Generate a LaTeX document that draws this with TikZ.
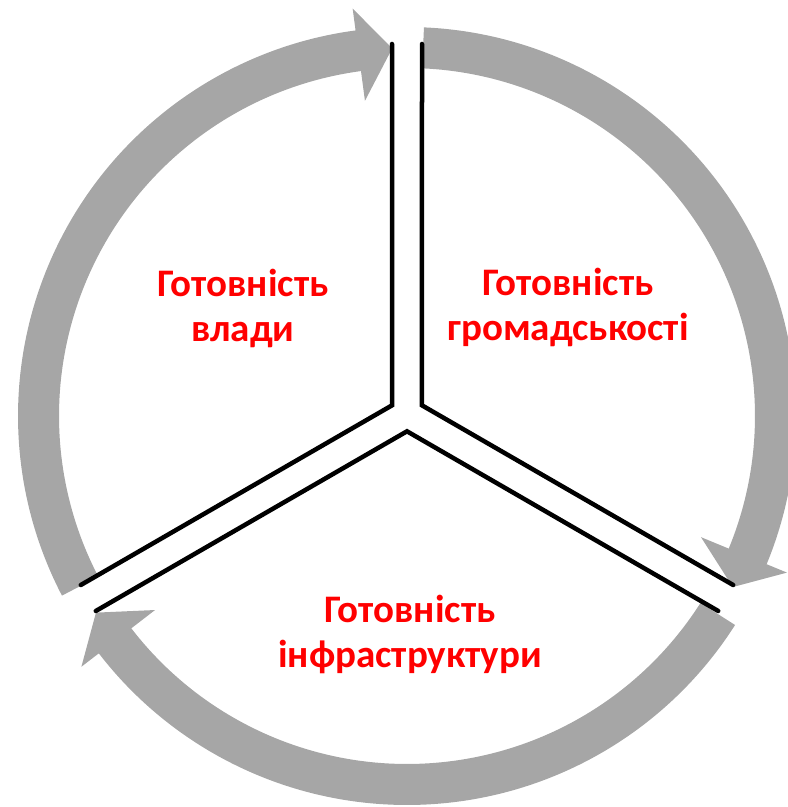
\documentclass[tikz,border=0pt]{standalone}
\usepackage{fontspec}
\setmainfont{Carlito}
\usetikzlibrary{calc}
\definecolor{grigio}{HTML}{A6A6A6}
\definecolor{rosso}{HTML}{FF0000}
\tikzset{
  freccia/.style={fill=grigio, draw=none},
  bordo/.style={draw=black, line width=4.5pt, line cap=round, line join=miter},
  titolo/.style={text=rosso, font=\fontsize{39}{45}\selectfont\bfseries, align=center, inner sep=0pt}
}

\begin{document}
\begin{tikzpicture}[x=1pt, y=1pt]
        \useasboundingbox (0,0) rectangle (788,807);
        \clip (0,0) rectangle (788,807);
        % CENTRO
        \coordinate (c) at (407,391);
        \coordinate (o) at (407,393);

        % FRECCE
        \foreach \t in {87.5,207.5,327.5}{
            \pgfmathsetmacro{\tip}{\t-115.2}
            \pgfmathsetmacro{\base}{\tip+5.3}
            \fill[freccia] ($(c)+(\t:389)$) arc[start angle=\t, end angle=\base, radius=389]
                -- ($(c)+(\base:411)$) -- ($(c)+(\tip:368)$) -- ($(c)+(\base:318)$)
                -- ($(c)+(\base:348)$) arc[start angle=\base, end angle=\t, radius=348] -- cycle;
        }

        % BORDI
        \coordinate (sx1) at ($(o)+(90:370)+(180:15)$);
        \coordinate (sx2) at ($(o)+(150:17.3)$);
        \coordinate (sx3) at ($(o)+(210:368)+(120:15)$);
        \coordinate (dx1) at ($(o)+(90:370)+(0:15)$);
        \coordinate (dx2) at ($(o)+(30:17.3)$);
        \coordinate (dx3) at ($(o)+(330:368)+(60:15)$);
        \coordinate (gi1) at ($(o)+(210:368)+(300:15)$);
        \coordinate (gi2) at ($(o)+(270:17.3)$);
        \coordinate (gi3) at ($(o)+(330:368)+(240:15)$);
        \draw[bordo] (sx1) -- (sx2) -- (sx3);
        \draw[bordo] (dx1) -- (dx2) -- (dx3);
        \draw[bordo] (gi1) -- (gi2) -- (gi3);

        % TESTI
        \node[titolo] (vlada) at (243,499) {Готовність\\влади};
        \node[titolo] (hromada) at (568,500) {Готовність\\громадськості};
        \node[titolo] (infra) at (410,173) {Готовність\\інфраструктури};
    \end{tikzpicture}
\end{document}
